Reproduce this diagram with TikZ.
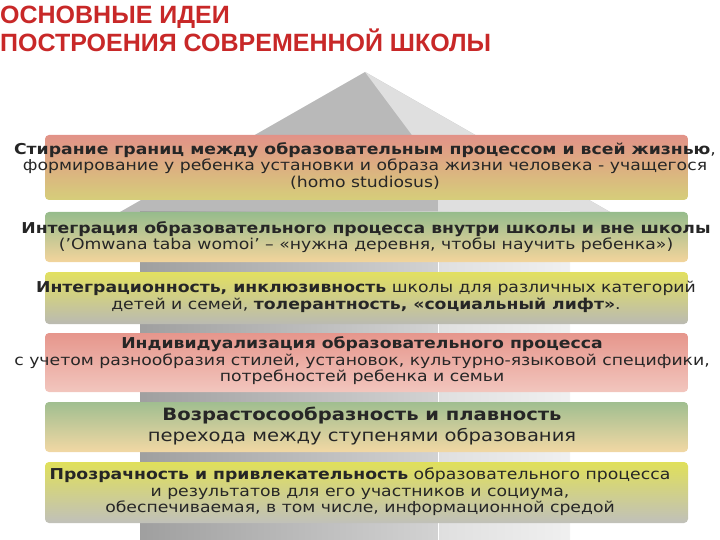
\documentclass[tikz,border=0pt]{standalone}
\usepackage{fontspec}
\setmainfont[FakeStretch=1.15]{DejaVu Sans}
\newfontfamily\titlefont{Liberation Sans}
\begin{document}
\begin{tikzpicture}[x=1pt,y=-1pt,
  band/.style={rounded corners=4pt},
  btext/.style={align=center,font=\fontsize{15}{16.5}\selectfont,inner sep=0pt,text=black!85}]
\useasboundingbox (0,0) rectangle (720,540);
% house
\fill[gray!55] (365,72) -- (610,212) -- (120,212) -- cycle;
\fill[gray!25] (365,72) -- (610,212) -- (438,212) -- (438,170) -- cycle;
\shade[left color=gray!75,right color=gray!35] (140,212) rectangle (438,540);
\shade[left color=gray!25,right color=gray!12] (438,212) rectangle (570,540);
\draw[white,line width=1pt] (438,212) -- (438,540);
% bands
\shade[band,top color={rgb,255:red,226;green,146;blue,136},bottom color={rgb,255:red,214;green,206;blue,122}] (45,135) rectangle (688,200);
\shade[band,top color={rgb,255:red,150;green,188;blue,140},bottom color={rgb,255:red,243;green,212;blue,156}] (45,212) rectangle (688,262);
\shade[band,top color={rgb,255:red,226;green,224;blue,96},bottom color={rgb,255:red,186;green,186;blue,178}] (45,272) rectangle (688,324);
\shade[band,top color={rgb,255:red,230;green,150;blue,140},bottom color={rgb,255:red,242;green,198;blue,190}] (45,333) rectangle (688,392);
\shade[band,top color={rgb,255:red,160;green,190;blue,144},bottom color={rgb,255:red,242;green,216;blue,164}] (45,402) rectangle (688,452);
\shade[band,top color={rgb,255:red,224;green,224;blue,90},bottom color={rgb,255:red,192;green,192;blue,186}] (45,462) rectangle (688,523);
% title
\node[anchor=north west,inner sep=0pt,align=left,text={rgb,255:red,200;green,40;blue,40},font=\titlefont\bfseries\fontsize{25}{28}\selectfont] (title) at (0,6) {ОСНОВНЫЕ ИДЕИ\\ПОСТРОЕНИЯ СОВРЕМЕННОЙ ШКОЛЫ};
% texts
\node[btext] (t1) at (365,166) {\textbf{Стирание границ между образовательным процессом и всей жизнью},\\формирование  у ребенка установки и образа жизни человека - учащегося\\(homo studiosus)};
\node[btext] (t2) at (366,237) {\textbf{Интеграция образовательного процесса внутри школы и вне школы}\\('Omwana  taba  womoi' – «нужна деревня, чтобы научить ребенка»)};
\node[btext] (t3) at (366,297) {\textbf{Интеграционность, инклюзивность} школы для различных категорий\\детей и семей, \textbf{толерантность, «социальный лифт»}.};
\node[btext] (t4) at (362,361) {\textbf{Индивидуализация образовательного процесса}\\с учетом  разнообразия стилей, установок, культурно-языковой специфики,\\потребностей ребенка и семьи};
\node[btext,font=\fontsize{17}{21}\selectfont] (t5) at (362,426) {\textbf{Возрастосообразность и плавность}\\перехода между  ступенями образования};
\node[btext] (t6) at (360,492) {\textbf{Прозрачность и привлекательность} образовательного процесса\\и результатов для его участников и социума,\\обеспечиваемая, в том числе, информационной средой};
\end{tikzpicture}
\end{document}
